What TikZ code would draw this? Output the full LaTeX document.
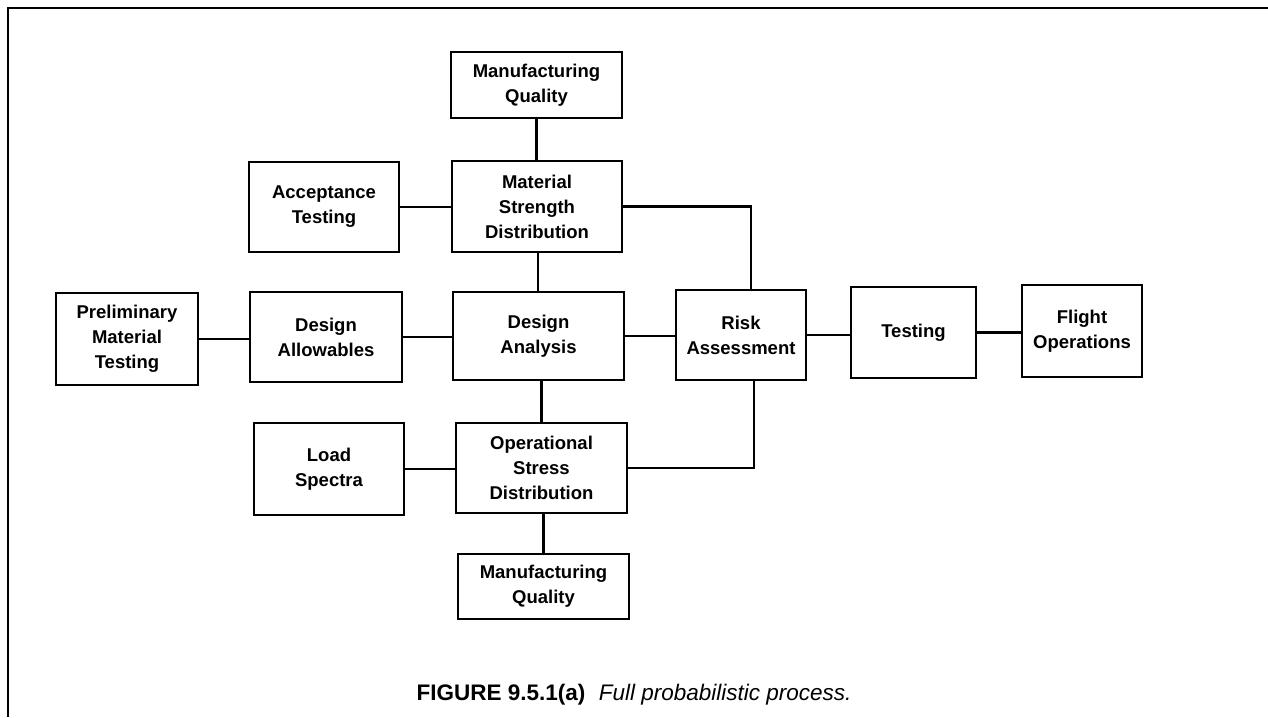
\documentclass[tikz,border=0pt]{standalone}
\usepackage{fontspec}
\setmainfont{Liberation Sans}
\begin{document}
\begin{tikzpicture}[x=1pt,y=-1pt,
  blk/.style={draw,line width=2.2pt,align=center,inner sep=0pt,
    font=\bfseries\fontsize{18.5}{25}\selectfont},
  wire/.style={line width=2.2pt}]
\useasboundingbox (0,0) rectangle (1268,717);
\draw[line width=2.6pt] (8,717) -- (8,8) -- (1268,8);
\node[blk,minimum width=171,minimum height=66] (mqt) at (536.5,85) {Manufacturing\\Quality};
\node[blk,minimum width=150,minimum height=90] (at) at (324,207) {Acceptance\\Testing};
\node[blk,minimum width=170,minimum height=91] (msd) at (537,206.5) {Material\\Strength\\Distribution};
\node[blk,minimum width=142,minimum height=92] (pmt) at (127,339) {Preliminary\\Material\\Testing};
\node[blk,minimum width=152,minimum height=90] (dal) at (326,337) {Design\\Allowables};
\node[blk,minimum width=171,minimum height=88] (dan) at (538.5,336) {Design\\Analysis};
\node[blk,minimum width=130,minimum height=90] (risk) at (741,335) {Risk\\Assessment};
\node[blk,minimum width=125,minimum height=91] (test) at (913.5,332.5) {Testing};
\node[blk,minimum width=120,minimum height=92] (flt) at (1082,331) {Flight\\Operations};
\node[blk,minimum width=150,minimum height=92] (ls) at (329,469) {Load\\Spectra};
\node[blk,minimum width=171,minimum height=90] (osd) at (541.5,468) {Operational\\Stress\\Distribution};
\node[blk,minimum width=171,minimum height=65] (mqb) at (543.5,586.5) {Manufacturing\\Quality};
\coordinate (rt) at ([xshift=10pt]risk.north);
\coordinate (rb) at ([xshift=13pt]risk.south);
\draw[wire] (mqt.south) -- (mqt.south |- msd.north);
\draw[wire] ([xshift=1pt]msd.south) -- ([xshift=1pt]msd.south |- dan.north);
\draw[wire] ([xshift=3pt]dan.south) -- ([xshift=3pt]dan.south |- osd.north);
\draw[wire] ([xshift=2pt]osd.south) -- ([xshift=2pt]osd.south |- mqb.north);
\draw[wire] (at.east) -- (at.east -| msd.west);
\draw[wire] (pmt.east) -- (pmt.east -| dal.west);
\draw[wire] (dal.east) -- (dal.east -| dan.west);
\draw[wire] (dan.east) -- (dan.east -| risk.west);
\draw[wire] (risk.east) -- (risk.east -| test.west);
\draw[wire] (test.east) -- (test.east -| flt.west);
\draw[wire] (ls.east) -- (ls.east -| osd.west);
\draw[wire] (msd.east) -| (rt);
\draw[wire] (osd.east) -| (rb);
\node[font=\fontsize{22.5}{27}\selectfont,anchor=base] (cap) at (634,700)
  {\textbf{FIGURE 9.5.1(a)}\hspace{0.6em}\textit{Full probabilistic process.}};
\end{tikzpicture}
\end{document}
